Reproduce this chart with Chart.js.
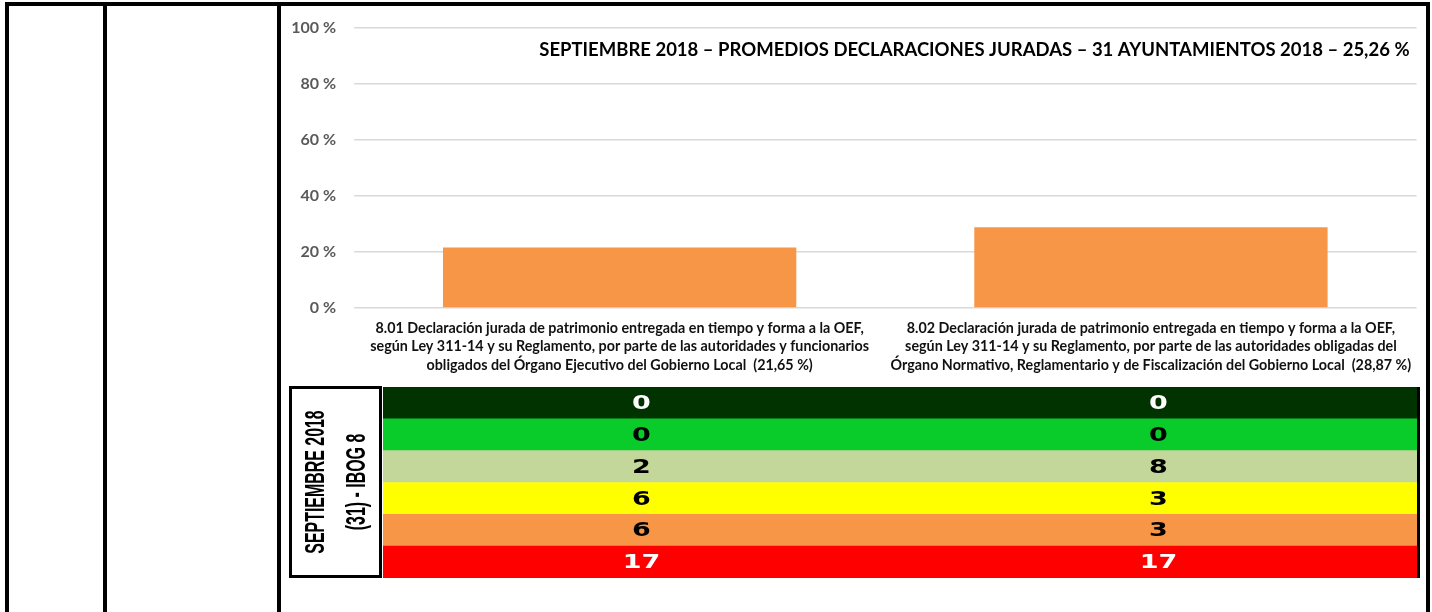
<!DOCTYPE html>
<html lang="es">
<head>
<meta charset="utf-8">
<title>Promedios declaraciones juradas - septiembre 2018</title>
<script src="https://cdn.jsdelivr.net/npm/chart.js@4.4.1/dist/chart.umd.min.js"></script>
<style>
  html, body { margin: 0; padding: 0; background: #fff; }
  #page { position: relative; width: 1432px; height: 612px; overflow: hidden; }
  .line { position: absolute; background: #000; z-index: 2; }
  #barWrap { position: absolute; left: 282px; top: 0; width: 1142px; height: 380px; }
  #tablaWrap { position: absolute; left: 284px; top: 384px; width: 1140px; height: 198px; }
</style>
</head>
<body>
<div id="page">
  <div class="line" style="left:5px; top:2px; width:1425px; height:4px;"></div>
  <div class="line" style="left:5px; top:2px; width:4px; height:610px;"></div>
  <div class="line" style="left:103px; top:2px; width:4px; height:610px;"></div>
  <div class="line" style="left:277px; top:2px; width:4px; height:610px;"></div>
  <div class="line" style="left:1426px; top:2px; width:4px; height:610px;"></div>
  <div id="barWrap"><canvas id="barras"></canvas></div>
  <div id="tablaWrap"><canvas id="tabla"></canvas></div>
</div>
<script>
// indicadores 8.01 y 8.02
const indicadores = [
  [
    "8.01 Declaración jurada de patrimonio entregada en tiempo y forma a la OEF,",
    "según Ley 311-14 y su Reglamento, por parte de las autoridades y funcionarios",
    "obligados del Órgano Ejecutivo del Gobierno Local  (21,65 %)"
  ],
  [
    "8.02 Declaración jurada de patrimonio entregada en tiempo y forma a la OEF,",
    "según Ley 311-14 y su Reglamento, por parte de las autoridades obligadas del",
    "Órgano Normativo, Reglamentario y de Fiscalización del Gobierno Local  (28,87 %)"
  ]
];
const promedios = [21.65, 28.87];
const titulo = "SEPTIEMBRE 2018 – PROMEDIOS DECLARACIONES JURADAS – 31 AYUNTAMIENTOS 2018 – 25,26 %";

// cantidad de ayuntamientos por rango de cumplimiento
const rangos = ["verde oscuro", "verde", "verde claro", "amarillo", "naranja", "rojo"];
const conteos801 = [0, 0, 2, 6, 6, 17];
const conteos802 = [0, 0, 8, 3, 3, 17];
const etiquetaTabla = ["SEPTIEMBRE 2018", "(31) - IBOG 8"];

const coloresRango = ["#003300", "#09cc2a", "#c4d79b", "#ffff00", "#f79646", "#ff0000"];
const textoRango = ["#ffffff", "#000000", "#000000", "#000000", "#000000", "#ffffff"];
const naranja = "#f79646";

const tituloPlugin = {
  id: "tituloInterno",
  afterDraw(chart) {
    const { ctx, chartArea } = chart;
    ctx.save();
    ctx.font = "bold 18.5px Lato, 'Liberation Sans', sans-serif";
    ctx.fillStyle = "#000";
    ctx.textAlign = "right";
    ctx.textBaseline = "middle";
    ctx.fillText(titulo, chartArea.right - 7, 50);
    ctx.restore();
  }
};

new Chart(document.getElementById("barras"), {
  type: "bar",
  data: {
    labels: indicadores,
    datasets: [{
      data: promedios,
      backgroundColor: naranja,
      borderWidth: 0,
      categoryPercentage: 1,
      barPercentage: 0.665
    }]
  },
  options: {
    responsive: true,
    maintainAspectRatio: false,
    animation: false,
    layout: { padding: { top: 28, right: 7, bottom: 0, left: 0 } },
    plugins: { legend: { display: false }, tooltip: { enabled: false } },
    scales: {
      x: {
        grid: { display: false, drawTicks: false },
        border: { display: false },
        ticks: {
          autoSkip: false,
          maxRotation: 0,
          minRotation: 0,
          padding: 11,
          color: "#111111",
          font: { family: "Lato, 'Liberation Sans', sans-serif", size: 14.3, weight: "bold", lineHeight: "18.5px" }
        },
        afterFit(scale) { scale.height = 72; }
      },
      y: {
        min: 0,
        max: 100,
        grid: { color: "#d9d9d9", lineWidth: 1.5, drawTicks: false },
        border: { display: false },
        ticks: {
          stepSize: 20,
          padding: 18,
          color: "#595959",
          font: { family: "Lato, 'Liberation Sans', sans-serif", size: 16, weight: "bold" },
          callback: (v) => v + " %"
        },
        afterFit(scale) { scale.width = 72; }
      }
    }
  },
  plugins: [tituloPlugin]
});

// conteos dentro de cada franja, recuadro lateral con texto vertical
const tablaPlugin = {
  id: "tablaConteos",
  afterDatasetsDraw(chart) {
    const { ctx, chartArea, scales } = chart;
    const columnas = [conteos801, conteos802];
    ctx.save();
    ctx.font = "bold 20px 'DejaVu Sans', Verdana, sans-serif";
    ctx.textAlign = "center";
    ctx.textBaseline = "middle";
    columnas.forEach((conteos, c) => {
      const x = scales.x.getPixelForValue(c + 0.5);
      conteos.forEach((n, i) => {
        const y = scales.y.getPixelForValue(i);
        ctx.save();
        ctx.translate(x, y + 1);
        ctx.scale(1.35, 1);
        ctx.fillStyle = textoRango[i];
        ctx.fillText(String(n), 0, 0);
        ctx.restore();
      });
    });

    // borde derecho de la tabla
    ctx.fillStyle = "#000";
    ctx.fillRect(chartArea.right, chartArea.top, 3, chartArea.bottom - chartArea.top);

    // recuadro con la etiqueta vertical
    const izq = 5, der = chartArea.left - 1;
    const arriba = chartArea.top - 1, abajo = chartArea.bottom;
    ctx.strokeStyle = "#000";
    ctx.lineWidth = 3;
    ctx.strokeRect(izq + 1.5, arriba + 1.5, der - izq - 3, abajo - arriba - 3);

    const cy = (arriba + abajo) / 2;
    const cx = [izq + 28, izq + 69];
    ctx.font = "bold 27px 'Liberation Sans', Arial, sans-serif";
    ctx.fillStyle = "#000";
    etiquetaTabla.forEach((t, k) => {
      ctx.save();
      ctx.translate(cx[k], cy);
      ctx.rotate(-Math.PI / 2);
      ctx.scale(0.59, 1);
      ctx.fillText(t, 0, 0);
      ctx.restore();
    });
    ctx.restore();
  }
};

new Chart(document.getElementById("tabla"), {
  type: "bar",
  data: {
    labels: rangos,
    datasets: [{
      data: rangos.map(() => [0, 2]),
      backgroundColor: coloresRango,
      borderWidth: 0,
      categoryPercentage: 1,
      barPercentage: 1
    }]
  },
  options: {
    indexAxis: "y",
    responsive: true,
    maintainAspectRatio: false,
    animation: false,
    layout: { padding: { top: 3, right: 7, bottom: 4, left: 99 } },
    plugins: { legend: { display: false }, tooltip: { enabled: false } },
    scales: {
      x: { type: "linear", min: 0, max: 2, display: false },
      y: { display: false }
    }
  },
  plugins: [tablaPlugin]
});
</script>
</body>
</html>
